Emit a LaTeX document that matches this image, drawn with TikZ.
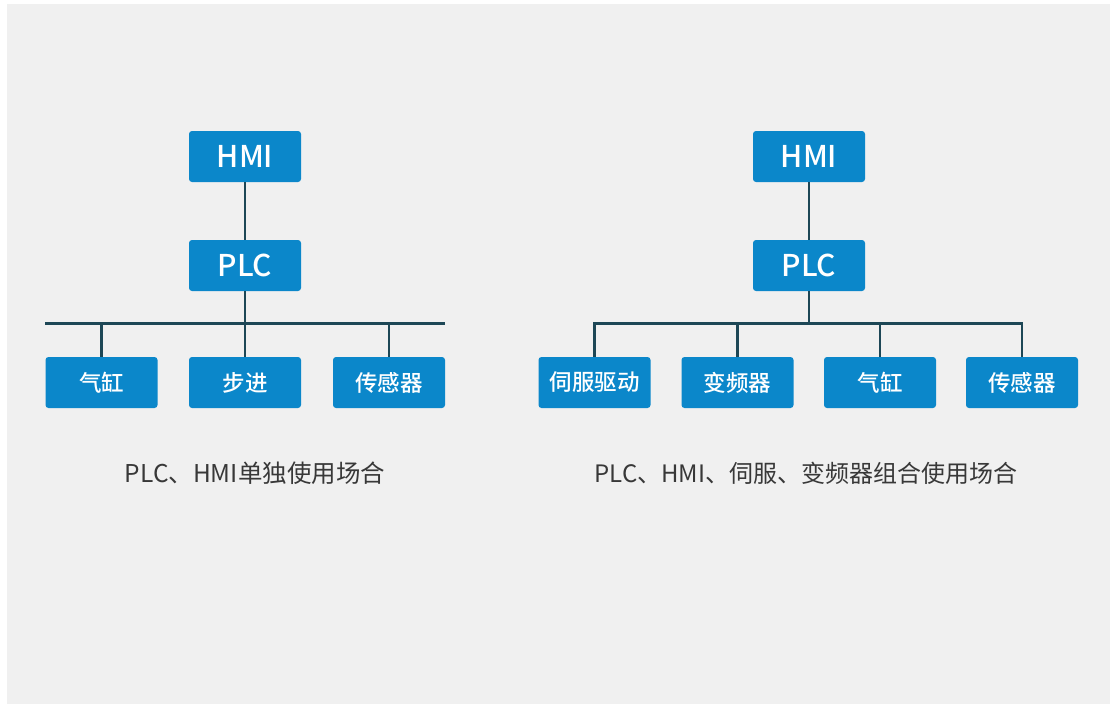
\documentclass[tikz,border=0pt]{standalone}
\usepackage{fontspec}
\setmainfont{Noto Sans CJK SC}
\newfontfamily\medfont{Noto Sans CJK SC Medium}
\definecolor{bg}{HTML}{F0F0F0}
\definecolor{boxblue}{HTML}{0B87CA}
\definecolor{linec}{HTML}{1D4756}
\definecolor{capc}{HTML}{383838}
\begin{document}
\begin{tikzpicture}[x=1pt,y=-1pt,
  blk/.style={fill=boxblue,rounded corners=3pt,minimum width=112pt,minimum height=51pt,inner sep=0pt,text=white,anchor=center},
  big/.style={blk,font=\medfont\fontsize{30}{30}\selectfont},
  small/.style={blk,font=\medfont\fontsize{22.5}{22.5}\selectfont},
  wire/.style={draw=linec,line width=2.4pt},
  captext/.style={text=capc,font=\fontsize{24.5}{24.5}\selectfont,anchor=center}]
\useasboundingbox (0,0) rectangle (1110,704);
\fill[white] (0,0) rectangle (1110,704);
\fill[bg] (7,4) rectangle (1110,704);
% left diagram
\node[big] (lh) at (245,156.5) {HMI};
\node[big] (lp) at (245,265.5) {PLC};
\coordinate (lbl) at (45,323.5);
\coordinate (lbr) at (445,323.5);
\coordinate (lbc) at (245,323.5);
\node[small] (l1) at (101.5,382.5) {气缸};
\node[small] (l2) at (245,382.5) {步进};
\node[small] (l3) at (389,382.5) {传感器};
\draw[wire] (lh) -- (lp);
\draw[wire] (lp) -- (lbc);
\draw[wire] (lbl) -- (lbr);
\draw[wire] (l1.north) -- (l1.north |- lbc);
\draw[wire] (l2.north) -- (lbc);
\draw[wire] (l3.north) -- (l3.north |- lbc);
\node[captext] (lc) at (255,473) {PLC、HMI单独使用场合};
% right diagram
\node[big] (rh) at (809,156.5) {HMI};
\node[big] (rp) at (809,265.5) {PLC};
\coordinate (rbc) at (809,323.5);
\node[small] (r1) at (594.5,382.5) {伺服驱动};
\node[small] (r2) at (737.5,382.5) {变频器};
\node[small] (r3) at (880,382.5) {气缸};
\node[small] (r4) at (1022,382.5) {传感器};
\draw[wire] (rh) -- (rp);
\draw[wire] (rp) -- (rbc);
\draw[wire,line join=miter] (r1.north) -- (r1.north |- rbc) -- (r4.north |- rbc) -- (r4.north);
\draw[wire] (r2.north) -- (r2.north |- rbc);
\draw[wire] (r3.north) -- (r3.north |- rbc);
\node[captext,font=\fontsize{24}{24}\selectfont] (rc) at (806,473) {PLC、HMI、伺服、变频器组合使用场合};
\end{tikzpicture}
\end{document}
